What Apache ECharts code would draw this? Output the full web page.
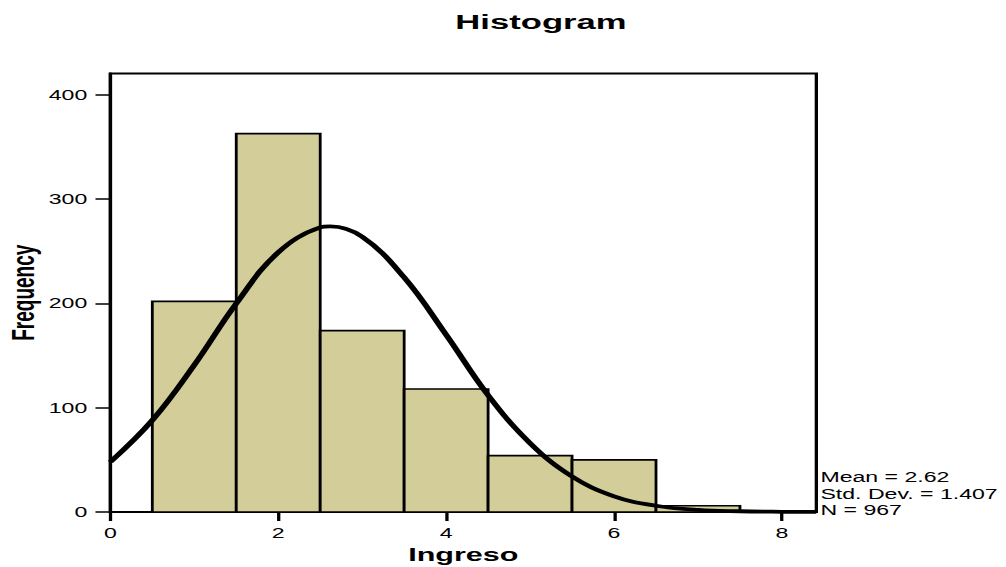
<!DOCTYPE html>
<html>
<head>
<meta charset="utf-8">
<script src="https://cdn.jsdelivr.net/npm/echarts@6/dist/echarts.min.js"></script>
<style>
  html, body { margin: 0; padding: 0; overflow: hidden; background: #fff; }
  #chart { width: 610px; height: 567px; transform: scaleX(1.6492); transform-origin: 0 0; }
</style>
</head>
<body>
<div id="chart"></div>
<script>
// Histogram bins of "Ingreso"
const binStarts = [0.5, 1.5, 2.5, 3.5, 4.5, 5.5, 6.5];
const binEnds   = [1.5, 2.5, 3.5, 4.5, 5.5, 6.5, 7.5];
const binCounts = [202, 363, 174, 118, 54, 50, 6];

// Normal curve
const curveX = [0, 0.5, 1, 1.5, 2, 2.5, 2.62, 3, 3.5, 4, 4.5, 5, 5.5, 6, 6.5, 7, 7.5, 8, 8.41];
const curveY = [48, 88, 141, 200, 249, 273, 274, 264, 225, 170, 112, 66, 34, 15, 6, 2, 0.7, 0.2, 0.05];

const xTicks = [0, 2, 4, 6, 8];
const yTicks = [0, 100, 200, 300, 400];

const statLabels = ['Mean = 2.62', 'Std. Dev. = 1.407', 'N = 967'];

const FONT = '"Liberation Sans", Arial, sans-serif';

const chart = echarts.init(document.getElementById('chart'), null, { renderer: 'svg' });

const barData = binStarts.map((s, i) => [s, binEnds[i], binCounts[i]]);
const curveData = curveX.map((x, i) => [x, curveY[i]]);

chart.setOption({
  animation: false,
  backgroundColor: '#ffffff',
  title: [
    {
      text: 'Histogram',
      left: 323, top: 6, textAlign: 'center',
      textStyle: { fontFamily: FONT, fontSize: 21, fontWeight: 'bold', color: '#000' }
    },
    {
      text: statLabels.join('\n'),
      left: 497.5, top: 469,
      padding: 0,
      textStyle: { fontFamily: FONT, fontSize: 14, fontWeight: 'normal', color: '#000', lineHeight: 16.5 }
    }
  ],
  grid: {
    left: 66.9, right: 115, top: 73.5, bottom: 55,
    outerBoundsMode: 'none',
    show: true, borderColor: '#000', borderWidth: 2, backgroundColor: 'transparent',
    containLabel: false
  },
  xAxis: {
    type: 'value', min: 0, max: 8.41,
    name: 'Ingreso', nameLocation: 'middle', nameGap: 33,
    nameMoveOverlap: false,
    nameTextStyle: { fontFamily: FONT, fontSize: 18.5, fontWeight: 'bold', color: '#000' },
    axisLine: { show: true, lineStyle: { color: '#000', width: 2 } },
    axisTick: { show: true, length: 9, customValues: xTicks, lineStyle: { color: '#000', width: 2 } },
    axisLabel: { customValues: xTicks, margin: 14, fontFamily: FONT, fontSize: 14, color: '#000' },
    splitLine: { show: false }
  },
  yAxis: {
    type: 'value', min: 0, max: 420.6,
    name: 'Frequency', nameLocation: 'middle', nameGap: 43.5, nameRotate: 90,
    nameMoveOverlap: false,
    nameTextStyle: { fontFamily: FONT, fontSize: 19, fontWeight: 'bold', color: '#000' },
    axisLine: { show: true, lineStyle: { color: '#000', width: 2 } },
    axisTick: { show: true, length: 9, customValues: yTicks, lineStyle: { color: '#000', width: 1.5 } },
    axisLabel: { customValues: yTicks, margin: 14, fontFamily: FONT, fontSize: 14, color: '#000' },
    splitLine: { show: false }
  },
  series: [
    {
      type: 'custom',
      data: barData,
      encode: { x: [0, 1], y: 2 },
      renderItem: function (params, api) {
        const p0 = api.coord([api.value(0), api.value(2)]);
        const p1 = api.coord([api.value(1), 0]);
        return {
          type: 'rect',
          shape: { x: p0[0], y: p0[1], width: p1[0] - p0[0], height: p1[1] - p0[1] },
          style: { fill: '#d3cd99', stroke: '#000', lineWidth: 1.7 }
        };
      },
      z: 2
    },
    {
      type: 'line',
      data: curveData,
      smooth: 0.4,
      showSymbol: false,
      lineStyle: { color: '#000', width: 3.8 },
      z: 3
    }
  ]
});
</script>
</body>
</html>
